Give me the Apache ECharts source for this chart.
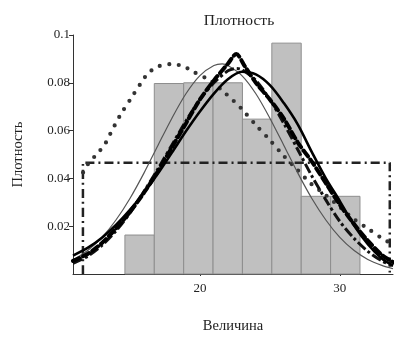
<!DOCTYPE html>
<html>
<head>
<meta charset="utf-8">
<script src="https://cdn.jsdelivr.net/npm/echarts@6/dist/echarts.min.js"></script>
<style>
  html, body { margin: 0; padding: 0; background: #fff; }
  #chart { width: 394px; height: 339px; }
</style>
</head>
<body>
<div id="chart"></div>
<script>
// Histogram: bin edges and density of each bin
const binEdges = [14.64, 16.74, 18.84, 20.94, 23.04, 25.14, 27.24, 29.34, 31.44];
const binDensity = [0.0163, 0.0797, 0.0800, 0.0800, 0.0648, 0.0966, 0.0325, 0.0325];

// Fitted density curves, [x, density]
const normalCurve = [
  [10.93, 0.0058], [12, 0.0099], [13, 0.0153], [14, 0.0226], [15, 0.0316], [16, 0.0422],
  [17, 0.0538], [18, 0.0652], [19, 0.0754], [20, 0.0830], [21, 0.0872], [21.6, 0.0879],
  [22, 0.0872], [23, 0.0830], [24, 0.0754], [25, 0.0652], [26, 0.0538], [27, 0.0422],
  [28, 0.0316], [29, 0.0226], [30, 0.0153], [31, 0.0099], [32, 0.0061], [33, 0.0036], [33.8, 0.0022]
];
const logisticCurve = [
  [10.93, 0.0077], [12, 0.0110], [13, 0.0152], [14, 0.0205], [15, 0.0268], [16, 0.0340],
  [17, 0.0420], [18, 0.0508], [19, 0.0597], [20, 0.0680], [21, 0.0755], [22, 0.0815],
  [23, 0.0846], [24, 0.0835], [25, 0.0790], [26, 0.0715], [27, 0.0625], [28, 0.0510],
  [29, 0.0400], [30, 0.0305], [31, 0.0205], [32, 0.0125], [33, 0.0065], [33.8, 0.0035]
];
const peakedCurve = [
  [10.93, 0.0055], [12, 0.0085], [13, 0.0130], [14, 0.0190], [15, 0.0260], [16, 0.0340],
  [17, 0.0430], [18, 0.0530], [19, 0.0630], [20, 0.0730], [21, 0.0810], [22, 0.0880],
  [22.6, 0.0920], [23.2, 0.0870], [24, 0.0800], [25, 0.0730], [26, 0.0650], [27, 0.0550],
  [28, 0.0470], [29, 0.0380], [30, 0.0290], [31, 0.0210], [32, 0.0140], [33, 0.0080], [33.8, 0.0050]
];
const extremeCurve = [
  [10.93, 0.0045], [12, 0.0075], [13, 0.0120], [14, 0.0180], [15, 0.0255], [16, 0.0345],
  [17, 0.0440], [18, 0.0540], [19, 0.0640], [20, 0.0730], [21, 0.0800], [22, 0.0850],
  [22.6, 0.0860], [23, 0.0855], [24, 0.0810], [25, 0.0730], [26, 0.0630], [27, 0.0520],
  [28, 0.0410], [29, 0.0310], [30, 0.0220], [31, 0.0150], [32, 0.0095], [33, 0.0055], [33.8, 0.0035]
];
const skewedCurve = [
  [11.65, 0.0425], [12.0, 0.0460], [12.7, 0.0506], [13.2, 0.0542], [13.6, 0.0587], [14.3, 0.0664],
  [15.1, 0.0737], [15.8, 0.0800], [16.3, 0.0840], [17.0, 0.0868], [17.9, 0.0878], [18.8, 0.0870],
  [19.4, 0.0850], [20.7, 0.0810], [21.8, 0.0757], [22.4, 0.0725], [23.0, 0.0690], [24.0, 0.0623],
  [24.9, 0.0567], [25.9, 0.0500], [26.9, 0.0440], [27.9, 0.0380], [29, 0.0330], [30, 0.0280],
  [31, 0.0230], [32, 0.0190], [33, 0.0150], [33.6, 0.0130]
];
const uniformCurve = [
  [11.64, 0], [11.64, 0.0466], [33.57, 0.0466], [33.57, 0]
];

// Axis settings
const xMin = 10.93, xMax = 33.8;
const xTicks = [20, 30];
const yTicks = [0.02, 0.04, 0.06, 0.08, 0.1];
const yTickLabels = ['0.02', '0.04', '0.06', '0.08', '0.1'];

const histData = binDensity.map((d, i) => [binEdges[i], binEdges[i + 1], d]);

const serif = 'Liberation Serif';
const chart = echarts.init(document.getElementById('chart'));

function curve(data, style, z) {
  return {
    type: 'line', data: data, smooth: 0.3, symbol: 'none', z: z,
    lineStyle: style, silent: true, animation: false
  };
}

chart.setOption({
  animation: false,
  title: {
    text: 'Плотность', left: 234, top: 8, textAlign: 'center',
    textStyle: { fontFamily: serif, fontSize: 15.5, fontWeight: 'normal', color: '#222' }
  },
  grid: { left: 73, top: 35, width: 320, height: 247, containLabel: false },
  xAxis: {
    type: 'value', min: xMin, max: xMax,
    name: 'Величина', nameLocation: 'middle', nameGap: 45,
    nameTextStyle: { fontFamily: serif, fontSize: 14.5, color: '#222' },
    axisLine: { show: true, lineStyle: { color: '#333', width: 1 } },
    axisTick: { show: true, customValues: xTicks, length: 2, lineStyle: { color: '#333' } },
    axisLabel: { customValues: xTicks, fontFamily: serif, fontSize: 13, color: '#222', margin: 8 },
    splitLine: { show: false }
  },
  yAxis: {
    type: 'value', min: 0, max: 0.1,
    name: 'Плотность', nameLocation: 'middle', nameGap: 47, nameRotate: 90,
    nameTextStyle: { fontFamily: serif, fontSize: 14.5, color: '#222' },
    axisLine: { show: true, lineStyle: { color: '#333', width: 1 } },
    axisTick: { show: true, customValues: yTicks, length: 4, lineStyle: { color: '#333' } },
    axisLabel: {
      customValues: yTicks, fontFamily: serif, fontSize: 13, color: '#222', margin: 3,
      formatter: v => yTickLabels[yTicks.findIndex(t => Math.abs(t - v) < 1e-9)]
    },
    splitLine: { show: false }
  },
  series: [
    {
      type: 'custom', z: 1, silent: true,
      renderItem: function (params, api) {
        const p0 = api.coord([api.value(0), api.value(2)]);
        const p1 = api.coord([api.value(1), 0]);
        return {
          type: 'rect',
          shape: { x: p0[0], y: p0[1], width: p1[0] - p0[0], height: p1[1] - p0[1] },
          style: { fill: '#c0c0c0', stroke: '#8e8e8e', lineWidth: 1 }
        };
      },
      encode: { x: [0, 1], y: 2 },
      data: histData
    },
    curve(uniformCurve, { color: '#222', width: 2.5, type: [9, 4, 2, 4] }, 2),
    curve(skewedCurve, { color: '#333', width: 4.2, type: [0, 9.5], cap: 'round' }, 3),
    curve(normalCurve, { color: '#555', width: 1.2 }, 4),
    curve(extremeCurve, { color: '#111', width: 3, type: [10, 3, 3, 3] }, 5),
    curve(logisticCurve, { color: '#000', width: 2.6 }, 6),
    curve(peakedCurve, { color: '#000', width: 4, type: [7, 4], cap: 'round' }, 7)
  ]
});
</script>
</body>
</html>
